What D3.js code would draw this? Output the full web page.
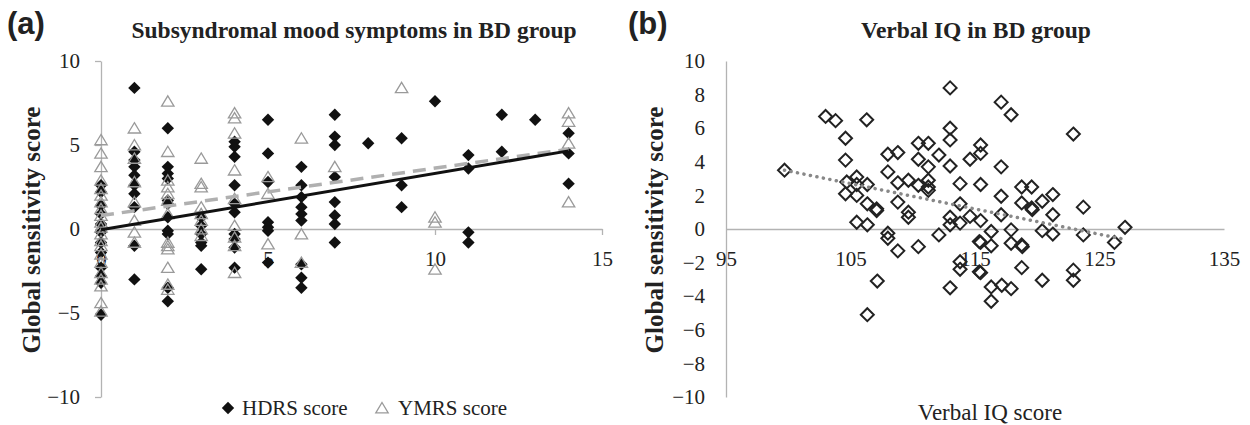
<!DOCTYPE html>
<html>
<head>
<meta charset="utf-8">
<script src="https://cdn.jsdelivr.net/npm/d3@7"></script>
<style>
  body { margin: 0; background: #fff; }
  svg text { fill: #222; }
</style>
</head>
<body>
<div id="chart"></div>
<script>
// ---- Data: panel (a), mood symptom scores vs global sensitivity score
const hdrsPoints = [
    [0, 2.6], [0, 2.2], [0, 1.4], [0, 0.9], [0, 0.3], [0, -0.2], [0, -0.8], [0, -1.4], [0, -2.3], [0, -2.8], [0, -3.2], [0, -5.1],
    [1, 8.4], [1, 4.6], [1, 4.1], [1, 3.7], [1, 3.2], [1, 2.6], [1, 2.1], [1, 1.3], [1, -1.0], [1, -3.0],
    [2, 6.0], [2, 3.7], [2, 3.3], [2, 3.0], [2, 1.7], [2, 1.5], [2, 0.7], [2, -0.1], [2, -0.3], [2, -3.5], [2, -4.3],
    [3, 0.7], [3, 0.2], [3, -0.3], [3, -0.8], [3, -1.0], [3, -2.4],
    [4, 5.2], [4, 4.9], [4, 4.3], [4, 2.6], [4, 1.5], [4, 1.0], [4, -0.3], [4, -0.6], [4, -1.1], [4, -2.3],
    [5, 6.5], [5, 4.5], [5, 2.8], [5, 0.4], [5, 0.1], [5, -0.1], [5, -2.0],
    [6, 3.7], [6, 2.6], [6, 1.9], [6, 1.3], [6, 0.9], [6, 0.5], [6, -2.1], [6, -2.9], [6, -3.5],
    [7, 6.8], [7, 5.5], [7, 5.0], [7, 3.1], [7, 1.6], [7, 0.8], [7, 0.3], [7, -0.8],
    [8, 5.1],
    [9, 5.4], [9, 2.6], [9, 1.3],
    [10, 7.6],
    [11, 4.4], [11, 3.6], [11, -0.2], [11, -0.8],
    [12, 6.8], [12, 4.6],
    [13, 6.5],
    [14, 5.7], [14, 4.5], [14, 2.7]
];
const ymrsPoints = [
    [0, 5.3], [0, 4.5], [0, 3.7], [0, 2.9], [0, 2.4], [0, 2.0], [0, 1.6], [0, 1.2], [0, 0.8], [0, 0.4], [0, 0.1],
    [0, -0.3], [0, -0.7], [0, -1.0], [0, -1.5], [0, -2.0], [0, -2.6], [0, -3.0], [0, -3.4], [0, -4.4], [0, -4.9],
    [1, 6.0], [1, 5.0], [1, 4.2], [1, 2.8], [1, 1.6], [1, 0.5], [1, -0.2], [1, -0.8],
    [2, 7.6], [2, 4.6], [2, 2.9], [2, 2.5], [2, 2.1], [2, 1.7], [2, 0.9], [2, -0.8], [2, -1.0], [2, -1.2], [2, -2.3], [2, -3.3], [2, -3.6],
    [3, 4.2], [3, 2.7], [3, 2.5], [3, 1.3], [3, 0.9], [3, 0.5], [3, 0.0], [3, -0.4],
    [4, 6.9], [4, 6.6], [4, 5.7], [4, 3.5], [4, 1.8], [4, 0.2], [4, -0.5], [4, -1.0], [4, -2.6],
    [5, 3.1], [5, 2.1], [5, -0.9],
    [6, 5.4], [6, -0.3], [6, -2.0],
    [7, 3.7],
    [9, 8.4],
    [10, 0.7], [10, 0.4], [10, -2.4],
    [14, 6.9], [14, 6.4], [14, 5.1], [14, 1.6]
];
const hdrsTrend = [[0, -0.05], [14, 4.65]];
const ymrsTrend = [[0, 0.8], [14, 4.75]];

// ---- Data: panel (b), verbal IQ vs global sensitivity score
const verbalIqPoints = [
    [99.7, 3.5], [103.0, 6.7], [103.8, 6.45], [106.3, 6.5], [104.6, 5.4], [104.6, 4.1], [104.7, 2.8], [104.6, 2.1],
    [105.5, 3.1], [105.5, 2.65], [105.5, 2.0], [106.35, 2.65], [106.35, 1.5], [107.1, 1.1], [107.1, 1.2],
    [105.5, 0.4], [106.35, 0.25], [108.0, 4.45], [108.8, 4.55], [108.0, 3.4], [108.8, 2.75], [108.8, 1.6],
    [109.65, 2.9], [109.65, 1.0], [109.65, 0.7], [110.45, 5.1], [111.25, 5.1], [110.45, 4.15], [111.25, 3.7],
    [110.45, 2.6], [111.25, 2.9], [111.25, 2.5], [111.25, 2.3], [112.1, 4.4], [113.0, 8.4], [113.0, 6.0],
    [113.0, 5.3], [113.0, 3.75], [113.8, 2.7], [113.8, 1.5], [113.0, 0.7], [113.0, 0.25], [113.8, 0.35],
    [112.1, -0.35], [108.0, -0.25], [108.0, -0.55], [108.8, -1.3], [110.45, -1.05], [113.8, -1.95], [113.8, -2.4],
    [107.15, -3.1], [113.0, -3.5], [106.35, -5.1], [115.35, -0.75], [115.35, -2.55],
    [117.1, 7.55], [117.9, 6.8], [122.9, 5.65], [115.45, 5.0], [115.45, 4.5], [114.6, 4.15], [117.1, 3.7],
    [115.45, 2.65], [117.1, 1.95], [118.75, 2.5], [119.55, 2.5], [118.75, 1.55], [119.55, 1.25], [119.6, 1.15],
    [120.4, 1.65], [121.25, 2.05], [121.25, 0.85], [123.7, 1.3], [114.6, 0.75], [115.45, 0.5], [117.1, 0.85],
    [116.3, -0.15], [117.9, -0.05], [120.4, -0.1], [121.25, -0.3], [123.7, -0.35], [127.05, 0.1], [126.2, -0.8],
    [115.45, -0.8], [116.3, -1.0], [117.9, -0.85], [118.75, -0.95], [118.8, -1.05],
    [115.45, -2.6], [118.75, -2.3], [116.3, -3.45], [117.15, -3.35], [117.9, -3.55], [116.3, -4.3],
    [120.4, -3.05], [122.9, -2.45], [122.9, -3.05]
];
const verbalIqTrend = [[99.7, 3.5], [126.9, -0.6]];

// ---- Tick labels
const yTicksA = [-10, -5, 0, 5, 10];
const xTicksA = [0, 5, 10, 15];
const yTicksB = [-10, -8, -6, -4, -2, 0, 2, 4, 6, 8, 10];
const xTicksB = [95, 105, 115, 125, 135];

const serif = "'Liberation Serif', 'Times New Roman', serif";
const sans = "'Liberation Sans', Arial, sans-serif";
const axisColor = '#b3b3b3';

const diamondPath = r => `M0,${-r}L${r},0L0,${r}L${-r},0Z`;
const trianglePath = 'M0,-5.5L6.2,4.8L-6.2,4.8Z';

const svg = d3.select('#chart').append('svg')
    .attr('width', 1250)
    .attr('height', 425)
    .attr('font-family', serif);

const styleAxis = (g, fontSize) => {
    g.select('.domain').attr('stroke', axisColor).attr('stroke-width', 1.3);
    g.selectAll('.tick line').attr('stroke', axisColor).attr('stroke-width', 1.3);
    g.selectAll('.tick text').attr('font-family', serif).attr('font-size', fontSize).attr('fill', '#222');
};

const yLabel = (x, text) => {
    svg.append('text')
        .attr('transform', `translate(${x}, 230) rotate(-90)`)
        .attr('text-anchor', 'middle')
        .attr('font-size', 25)
        .attr('font-weight', 'bold')
        .text(text);
};

// ---- Panel (a)
const renderPanelA = () => {
    const x = d3.scaleLinear([0, 15], [101, 602]);
    const y = d3.scaleLinear([-10, 10], [397, 61]);

    svg.append('text').attr('x', 7).attr('y', 34)
        .attr('font-family', sans).attr('font-size', 31).attr('font-weight', 'bold')
        .text('(a)');
    svg.append('text').attr('x', 354).attr('y', 38)
        .attr('text-anchor', 'middle').attr('font-size', 23.5).attr('font-weight', 'bold')
        .text('Subsyndromal mood symptoms in BD group');
    yLabel(40, 'Global sensitivity score');

    svg.append('g').attr('transform', `translate(${x(0)}, 0)`)
        .call(d3.axisLeft(y).tickValues(yTicksA).tickSize(6).tickSizeOuter(0).tickPadding(15))
        .call(g => styleAxis(g, 21));
    svg.append('g').attr('transform', `translate(0, ${y(0)})`)
        .call(d3.axisBottom(x).tickValues(xTicksA).tickSize(6).tickSizeOuter(0).tickPadding(16))
        .call(g => styleAxis(g, 21));

    // HDRS: filled diamonds
    svg.append('g').selectAll('path').data(hdrsPoints)
        .join('path')
        .attr('d', diamondPath(6.2))
        .attr('transform', d => `translate(${x(d[0])}, ${y(d[1])})`)
        .attr('fill', '#111');
    // YMRS: open grey triangles
    svg.append('g').selectAll('path').data(ymrsPoints)
        .join('path')
        .attr('d', trianglePath)
        .attr('transform', d => `translate(${x(d[0])}, ${y(d[1])})`)
        .attr('fill', 'none')
        .attr('stroke', '#9a9a9a')
        .attr('stroke-width', 1.3);

    const line = d3.line(d => x(d[0]), d => y(d[1]));
    svg.append('path').attr('d', line(ymrsTrend))
        .attr('fill', 'none').attr('stroke', '#b0b0b0').attr('stroke-width', 3.5)
        .attr('stroke-dasharray', '13 8');
    svg.append('path').attr('d', line(hdrsTrend))
        .attr('fill', 'none').attr('stroke', '#111').attr('stroke-width', 3);

    // Legend
    const legend = svg.append('g').attr('font-size', 21);
    legend.append('path').attr('d', diamondPath(6.2)).attr('transform', 'translate(228, 408)').attr('fill', '#111');
    legend.append('text').attr('x', 242).attr('y', 415).text('HDRS score');
    legend.append('path').attr('d', trianglePath).attr('transform', 'translate(382, 408)')
        .attr('fill', 'none').attr('stroke', '#9a9a9a').attr('stroke-width', 1.3);
    legend.append('text').attr('x', 398).attr('y', 415).text('YMRS score');
};

// ---- Panel (b)
const renderPanelB = () => {
    const x = d3.scaleLinear([95, 135], [726, 1224]);
    const y = d3.scaleLinear([-10, 10], [397, 61]);

    svg.append('text').attr('x', 628).attr('y', 34)
        .attr('font-family', sans).attr('font-size', 31).attr('font-weight', 'bold')
        .text('(b)');
    svg.append('text').attr('x', 976).attr('y', 38)
        .attr('text-anchor', 'middle').attr('font-size', 23.5).attr('font-weight', 'bold')
        .text('Verbal IQ in BD group');
    yLabel(663, 'Global sensitivity score');

    svg.append('g').attr('transform', `translate(${x(95)}, 0)`)
        .call(d3.axisLeft(y).tickValues(yTicksB).tickSize(0).tickSizeOuter(0).tickPadding(21))
        .call(g => styleAxis(g, 21));
    svg.append('g').attr('transform', `translate(0, ${y(0)})`)
        .call(d3.axisBottom(x).tickValues(xTicksB).tickSize(0).tickSizeOuter(0).tickPadding(22))
        .call(g => styleAxis(g, 21));

    svg.append('text').attr('x', 990).attr('y', 420)
        .attr('text-anchor', 'middle').attr('font-size', 23)
        .text('Verbal IQ score');

    svg.append('g').selectAll('path').data(verbalIqPoints)
        .join('path')
        .attr('d', diamondPath(6.5))
        .attr('transform', d => `translate(${x(d[0])}, ${y(d[1])})`)
        .attr('fill', 'none')
        .attr('stroke', '#222')
        .attr('stroke-width', 2);

    const line = d3.line(d => x(d[0]), d => y(d[1]));
    svg.append('path').attr('d', line(verbalIqTrend))
        .attr('fill', 'none').attr('stroke', '#888').attr('stroke-width', 3.5)
        .attr('stroke-linecap', 'round').attr('stroke-dasharray', '0.1 6.5');
};

renderPanelA();
renderPanelB();
</script>
</body>
</html>
